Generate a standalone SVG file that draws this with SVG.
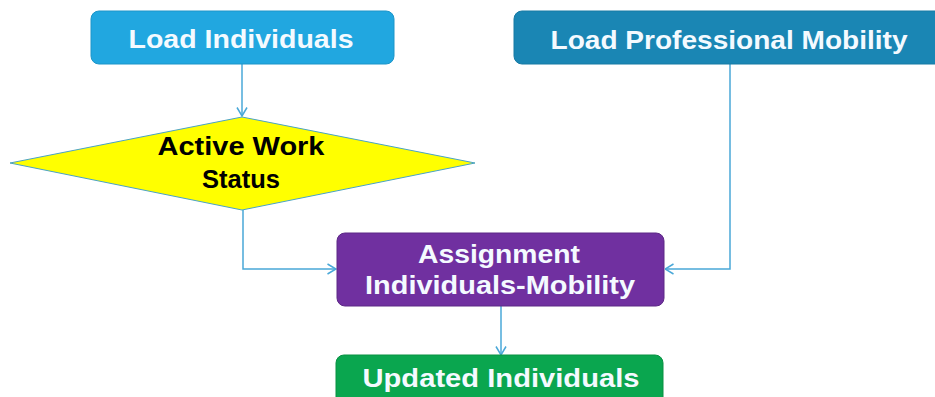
<svg xmlns="http://www.w3.org/2000/svg" width="935" height="397" viewBox="0 0 935 397">
<defs>
<style>
.t{font-family:"Liberation Sans",Arial,sans-serif;font-weight:bold;font-size:26px;text-anchor:middle;fill:#f4faff;}
.d{fill:#000000;}
.c{fill:none;stroke:#4aa8d8;stroke-width:1.5;}
</style>
<marker id="arr" viewBox="0 0 10 12" refX="9.5" refY="6" markerWidth="10" markerHeight="12" markerUnits="userSpaceOnUse" orient="auto">
<path d="M1,1 L9.5,6 L1,11" fill="none" stroke="#4aa8d8" stroke-width="1.5"/>
</marker>
</defs>
<rect width="935" height="397" fill="#ffffff"/>
<g id="connectors">
<path class="c" d="M242,64 V116" marker-end="url(#arr)"/>
<path class="c" d="M243,210 V269 H336" marker-end="url(#arr)"/>
<path class="c" d="M730,64 V269 H665" marker-end="url(#arr)"/>
<path class="c" d="M501,306 V355" marker-end="url(#arr)"/>
</g>
<g id="load-individuals">
<rect x="91" y="11" width="303" height="53" rx="8" fill="#21a7e0" stroke="#1c95c9" stroke-width="1"/>
<text class="t" x="241" y="48" textLength="225" lengthAdjust="spacingAndGlyphs">Load Individuals</text>
</g>
<g id="load-professional-mobility">
<rect x="514" y="11" width="440" height="53" rx="8" fill="#1a86b4" stroke="#177aa4" stroke-width="1"/>
<text class="t" x="729" y="49" textLength="357" lengthAdjust="spacingAndGlyphs">Load Professional Mobility</text>
</g>
<g id="active-work-status">
<polygon points="242,117 475,163 242,210 10,163" fill="#ffff00" stroke="#4aa3c6" stroke-width="1"/>
<text class="t d" x="241" y="155" textLength="167" lengthAdjust="spacingAndGlyphs">Active Work</text>
<text class="t d" x="241" y="188" textLength="78" lengthAdjust="spacingAndGlyphs">Status</text>
</g>
<g id="assignment">
<rect x="337" y="233" width="327" height="73" rx="8" fill="#7030a0" stroke="#5d2886" stroke-width="1"/>
<text class="t" x="499" y="263" textLength="162" lengthAdjust="spacingAndGlyphs">Assignment</text>
<text class="t" x="500" y="294" textLength="270" lengthAdjust="spacingAndGlyphs">Individuals-Mobility</text>
</g>
<g id="updated-individuals">
<rect x="336" y="355" width="327" height="60" rx="8" fill="#0aa64f" stroke="#089143" stroke-width="1"/>
<text class="t" x="501" y="387" textLength="277" lengthAdjust="spacingAndGlyphs">Updated Individuals</text>
</g>
</svg>
